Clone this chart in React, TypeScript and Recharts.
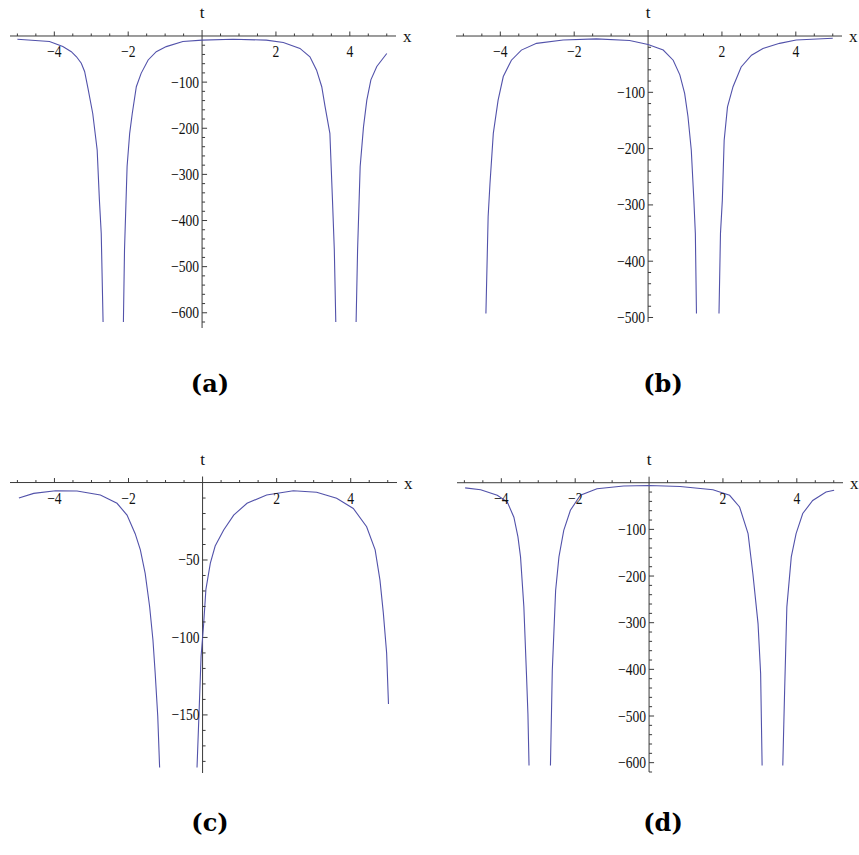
import { LineChart, Line, XAxis, YAxis, ReferenceLine, ReferenceDot, Label } from 'recharts';

// sampled curves, null marks the break at each pole
const xA = [-5, -4.13, -3.77, -3.54, -3.4, -3.27, -3.18, -3.09, -2.96, -2.84, -2.78, -2.73, -2.68, -2.4, -2.13, -2.1, -2.03, -1.96, -1.89, -1.78, -1.65, -1.46, -1.24, -0.97, -0.52, 0, 0.84, 1.74, 2.2, 2.65, 2.92, 3.1, 3.24, 3.33, 3.46, 3.53, 3.58, 3.62, 3.9, 4.17, 4.21, 4.28, 4.37, 4.46, 4.57, 4.73, 5];
const tA = [-7, -12, -23, -34, -45, -59, -77, -113, -168, -247, -355, -428, -620, null, -620, -464, -283, -211, -168, -110, -81, -52, -34, -23, -12, -9, -7, -9, -14, -27, -45, -74, -110, -153, -211, -355, -464, -620, null, -620, -464, -283, -197, -139, -95, -66, -38];

const xB = [-4.39, -4.33, -4.28, -4.19, -4.06, -3.92, -3.7, -3.43, -3.02, -2.3, -1.4, -0.5, 0, 0.41, 0.68, 0.86, 0.99, 1.08, 1.17, 1.24, 1.28, 1.31, 1.6, 1.92, 1.96, 2.01, 2.06, 2.15, 2.3, 2.52, 2.8, 3.11, 3.56, 4.01, 5];
const tB = [-493, -321, -262, -173, -114, -72, -43, -25, -13, -7, -5, -8, -15, -25, -43, -69, -102, -143, -203, -292, -351, -493, null, -493, -351, -292, -185, -126, -90, -55, -34, -22, -13, -7, -4];

const xC = [-4.96, -4.56, -3.97, -3.39, -2.76, -2.31, -2.04, -1.82, -1.68, -1.55, -1.43, -1.34, -1.28, -1.21, -1.16, -0.65, -0.15, -0.09, -0.04, 0.03, 0.09, 0.21, 0.34, 0.57, 0.84, 1.2, 1.73, 2.45, 3.08, 3.62, 4.07, 4.43, 4.66, 4.79, 4.88, 4.97, 5.02];
const tC = [-10, -7, -5.3, -5.5, -8, -13.4, -21, -33, -43.5, -58.6, -80, -101.6, -123, -151, -184, null, -184, -145, -112, -91, -69, -52, -41, -30.6, -21, -13.4, -8, -5.3, -6.3, -10.2, -16.7, -28.5, -43.5, -63, -84, -110, -143];

const xD = [-4.98, -4.56, -4.11, -3.84, -3.66, -3.55, -3.48, -3.39, -3.32, -3.28, -3.25, -2.96, -2.67, -2.62, -2.53, -2.44, -2.31, -2.13, -1.86, -1.41, -0.69, 0, 0.84, 1.73, 2.18, 2.45, 2.68, 2.81, 2.95, 3.02, 3.06, 3.34, 3.62, 3.67, 3.73, 3.85, 3.98, 4.16, 4.43, 4.79, 5.01];
const tD = [-11, -15, -27, -41, -74, -116, -159, -266, -409, -495, -606, null, -606, -402, -231, -159, -102, -59, -27, -13, -7, -6, -8, -15, -27, -52, -109, -195, -302, -409, -606, null, -606, -445, -266, -159, -109, -66, -38, -20, -16];

// x axis ticks: labelled every 2, small marks every 0.5
const xMajor = [-4, -2, 2, 4];
const xMinor = [-5, -4.5, -3.5, -3, -2.5, -1.5, -1, -0.5, 0.5, 1, 1.5, 2.5, 3, 3.5, 4.5, 5];

const yMajorA = [-100, -200, -300, -400, -500, -600];
const yMajorB = [-100, -200, -300, -400, -500];
const yMajorC = [-50, -100, -150];
const yMajorD = [-100, -200, -300, -400, -500, -600];

const captions = ['(a)', '(b)', '(c)', '(d)'];

const CURVE = '#5252aa';
const AXIS = '#3a3a3a';
const SERIF = '"Liberation Serif", "Times New Roman", serif';
const X_DOMAIN: [number, number] = [-5.2, 5.25];

const minorSteps = (step: number, last: number, major: number[]) => {
  const out: number[] = [];
  for (let v = -step; v >= last; v -= step) {
    if (!major.includes(v)) out.push(v);
  }
  return out;
};

const fmt = (v: number) => (v < 0 ? `\u2212${Math.abs(v)}` : `${v}`);

const xTick = (label: string | null) => (p: any) => (
  <g>
    <line x1={p.cx} y1={p.cy} x2={p.cx} y2={p.cy - (label ? 4.5 : 2.5)} stroke={AXIS} strokeWidth={1} />
    {label && (
      <text
        transform={`translate(${p.cx},${p.cy + 21}) scale(0.85,1)`}
        textAnchor="middle"
        fontFamily={SERIF}
        fontSize={16}
        fill="#111"
      >
        {label}
      </text>
    )}
  </g>
);

const yTick = (label: string | null) => (p: any) => (
  <g>
    <line x1={p.cx} y1={p.cy} x2={p.cx + (label ? 5 : 3)} y2={p.cy} stroke={AXIS} strokeWidth={1} />
    {label && (
      <text
        transform={`translate(${p.cx - 3},${p.cy + 5.5}) scale(0.85,1)`}
        textAnchor="end"
        fontFamily={SERIF}
        fontSize={16}
        fill="#111"
      >
        {label}
      </text>
    )}
  </g>
);

interface PanelProps {
  xs: number[];
  ts: (number | null)[];
  yDomain: [number, number];
  yMajor: number[];
  yStep: number;
  yLast: number;
  width: number;
  height: number;
  margin: { top: number; right: number; bottom: number; left: number };
  left: number;
  top: number;
}

function Panel({ xs, ts, yDomain, yMajor, yStep, yLast, width, height, margin, left, top }: PanelProps) {
  const data = xs.map((x, i) => ({ x, t: ts[i] }));
  const yMinor = minorSteps(yStep, yLast, yMajor);
  return (
    <div style={{ position: 'absolute', left, top }}>
      <LineChart width={width} height={height} data={data} margin={margin}>
        <XAxis type="number" dataKey="x" domain={X_DOMAIN} allowDataOverflow hide />
        <YAxis type="number" domain={yDomain} allowDataOverflow hide />
        <ReferenceLine y={0} stroke={AXIS} strokeWidth={1}>
          <Label value="x" position="right" offset={7} fontFamily={SERIF} fontSize={17} fill="#111" />
        </ReferenceLine>
        <ReferenceLine x={0} stroke={AXIS} strokeWidth={1}>
          <Label value="t" position="top" offset={12} fontFamily={SERIF} fontSize={17} fill="#111" />
        </ReferenceLine>
        {xMinor.map((v) => (
          <ReferenceDot key={`xm${v}`} x={v} y={0} r={0} shape={xTick(null)} />
        ))}
        {xMajor.map((v) => (
          <ReferenceDot key={`xM${v}`} x={v} y={0} r={0} shape={xTick(fmt(v))} />
        ))}
        {yMinor.map((v) => (
          <ReferenceDot key={`ym${v}`} x={0} y={v} r={0} shape={yTick(null)} />
        ))}
        {yMajor.map((v) => (
          <ReferenceDot key={`yM${v}`} x={0} y={v} r={0} shape={yTick(fmt(v))} />
        ))}
        <Line
          type="linear"
          dataKey="t"
          stroke={CURVE}
          strokeWidth={1.1}
          dot={false}
          activeDot={false}
          connectNulls={false}
          isAnimationActive={false}
        />
      </LineChart>
    </div>
  );
}

const captionPos = [
  { x: 210, y: 384 },
  { x: 663, y: 384 },
  { x: 210, y: 823 },
  { x: 663, y: 823 },
];

export default function App() {
  return (
    <div style={{ position: 'absolute', left: 0, top: 0, width: 859, height: 855, background: '#fff', overflow: 'hidden' }}>
      <Panel
        xs={xA}
        ts={tA}
        yDomain={[-633, 13]}
        yMajor={yMajorA}
        yStep={20}
        yLast={-620}
        left={0}
        top={0}
        width={430}
        height={340}
        margin={{ top: 30, right: 34, bottom: 12, left: 10 }}
      />
      <Panel
        xs={xB}
        ts={tB}
        yDomain={[-508, 10.7]}
        yMajor={yMajorB}
        yStep={20}
        yLast={-500}
        left={430}
        top={0}
        width={429}
        height={340}
        margin={{ top: 30, right: 17, bottom: 18, left: 26 }}
      />
      <Panel
        xs={xC}
        ts={tC}
        yDomain={[-187.5, 3.9]}
        yMajor={yMajorC}
        yStep={10}
        yLast={-180}
        left={0}
        top={440}
        width={430}
        height={345}
        margin={{ top: 36.5, right: 33, bottom: 12, left: 10 }}
      />
      <Panel
        xs={xD}
        ts={tD}
        yDomain={[-620, 12.9]}
        yMajor={yMajorD}
        yStep={20}
        yLast={-620}
        left={430}
        top={440}
        width={429}
        height={345}
        margin={{ top: 36.7, right: 16, bottom: 13, left: 27 }}
      />
      {captions.map((c, i) => (
        <div
          key={c}
          style={{
            position: 'absolute',
            left: captionPos[i].x - 60,
            top: captionPos[i].y - 17,
            width: 120,
            lineHeight: '34px',
            textAlign: 'center',
            fontFamily: '"DejaVu Serif", serif',
            fontWeight: 'bold',
            fontSize: 24,
            color: '#000',
          }}
        >
          {c}
        </div>
      ))}
    </div>
  );
}
